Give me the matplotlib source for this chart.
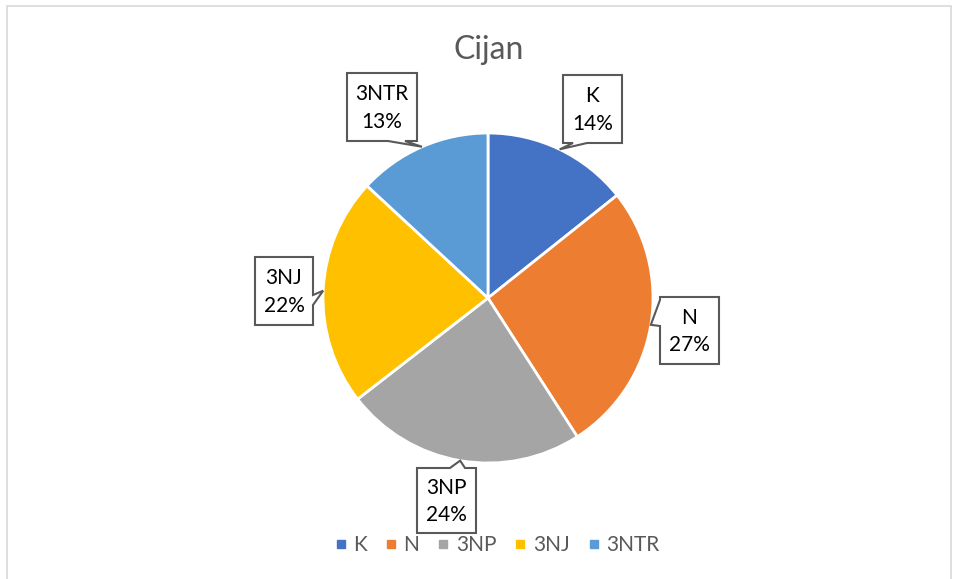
import numpy as np
import matplotlib
matplotlib.use("Agg")
import matplotlib.pyplot as plt
from matplotlib.patches import Polygon
from matplotlib.lines import Line2D

plt.rcParams['font.family'] = ['Lato', 'DejaVu Sans']

# data (shares, labels show rounded %)
labels = ['K', 'N', '3NP', '3NJ', '3NTR']
shares = [14.3, 26.6, 23.6, 22.4, 13.1]
pct_labels = ['14%', '27%', '24%', '22%', '13%']
colors = ['#4472C4', '#ED7D31', '#A5A5A5', '#FFC000', '#5B9BD5']
title = 'Cijan'

# callout boxes in pixel space: (x0, y0, x1, y1), side of notch, notch base span
boxes = [
    ((563, 75, 622, 143), 'bottom', (573, 587)),
    ((660, 297, 719, 364), 'left', (300, 326)),
    ((417, 468, 476, 533), 'top', (450, 465)),
    ((255, 257, 313, 325), 'right', (295, 305)),
    ((347, 73, 417, 141), 'bottom', (388, 405)),
]

W, H = 958, 579
cx, cy, R = 488, 298, 165

fig = plt.figure(figsize=(W / 100, H / 100), dpi=100)
ax = fig.add_axes([0, 0, 1, 1])

# chart frame
ax.plot([7, 7, 951, 951], [H, 6, 6, H], color='#d9d9d9', lw=1.2, solid_joinstyle='miter')

# pie: y axis is inverted, so counterclock=True draws clockwise on screen
wedges, _ = ax.pie(shares, colors=colors, startangle=-90, counterclock=True,
                   center=(cx, cy), radius=R, frame=True,
                   wedgeprops=dict(edgecolor='white', linewidth=2))
ax.set_xlim(0, W)
ax.set_ylim(H, 0)
ax.axis('off')

ax.text(cx + 1, 50, title, ha='center', va='center', fontsize=23, color='#595959')


def callout(box, side, span, tip):
    x0, y0, x1, y1 = box
    a, b = span
    if side == 'bottom':
        pts = [(x0, y0), (x1, y0), (x1, y1), (b, y1), tip, (a, y1), (x0, y1)]
    elif side == 'top':
        pts = [(x0, y0), (a, y0), tip, (b, y0), (x1, y0), (x1, y1), (x0, y1)]
    elif side == 'left':
        pts = [(x0, y0), (x1, y0), (x1, y1), (x0, y1), (x0, b), tip, (x0, a)]
    else:
        pts = [(x0, y0), (x1, y0), (x1, a), tip, (x1, b), (x1, y1), (x0, y1)]
    ax.add_patch(Polygon(pts, closed=True, facecolor='white', edgecolor='#595959',
                         lw=1.5, zorder=5))


total = sum(shares)
start = 0.0
for lab, val, pct, (box, side, span) in zip(labels, shares, pct_labels, boxes):
    mid = (start + val / 2) / total * 2 * np.pi
    start += val
    tip = (cx + R * np.sin(mid), cy - R * np.cos(mid))
    callout(box, side, span, tip)
    bx = (box[0] + box[2]) / 2
    by = (box[1] + box[3]) / 2
    ax.text(bx, by + 1, f'{lab}\n{pct}', ha='center', va='center', fontsize=15,
            color='#000000', linespacing=1.45, zorder=6)

handles = [Line2D([], [], marker='s', linestyle='none', markersize=5.5,
                  markerfacecolor=c, markeredgecolor=c) for c in colors]
leg = ax.legend(handles, labels, loc='center', bbox_to_anchor=(497 / W, 1 - 545 / H),
                ncol=5, frameon=False, fontsize=15, handletextpad=0.3,
                columnspacing=0.85, handlelength=0.6, borderpad=0)
for t in leg.get_texts():
    t.set_color('#595959')

fig.savefig('out.png', dpi=100)
